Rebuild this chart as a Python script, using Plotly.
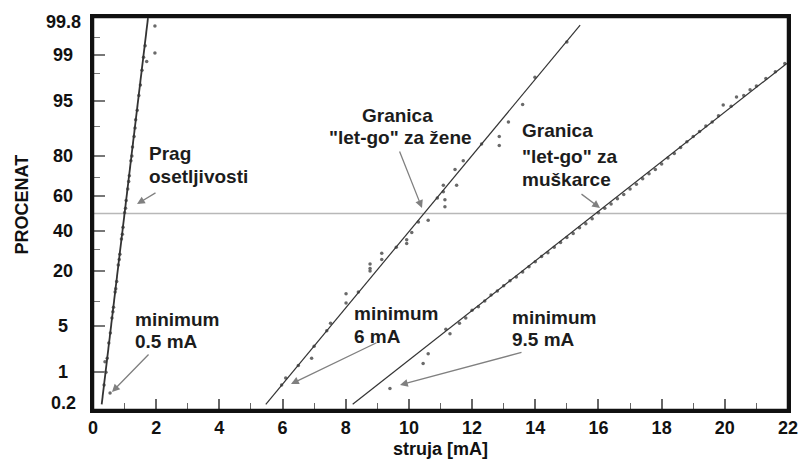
from statistics import NormalDist
import plotly.graph_objects as go

ND = NormalDist()


def zq(p):
    """percent -> normal quantile (probability-paper scale)"""
    return ND.inv_cdf(p / 100.0)


# ---------------- data ----------------
y_tick_pct = [0.2, 1, 5, 20, 40, 60, 80, 95, 99, 99.8]
y_tick_text = ["0.2", "1", "5", "20", "40", "60", "80", "95", "99", "99.8"]
y_minor_pct = [10, 30, 70, 90, 98, 99.5]
x_ticks = [0, 2, 4, 6, 8, 10, 12, 14, 16, 18, 20, 22]

# threshold of perception (prag osetljivosti)
sens_x = [0.35, 0.38, 0.41, 0.45, 0.50, 0.54, 0.55, 0.60, 0.63, 0.65, 0.70, 0.72,
          0.75, 0.80, 0.83, 0.85, 0.90, 0.93, 0.95, 1.00, 1.03, 1.05, 1.10, 1.13,
          1.15, 1.20, 1.23, 1.25, 1.30, 1.33, 1.35, 1.40, 1.45, 1.50, 1.55, 1.60,
          1.65, 1.70, 1.96, 1.96]
sens_pct = [0.6, 1.5, 1.0, 1.7, 2.9, 0.43, 4.0, 6.3, 7.5, 8.5, 12.5, 13.5,
            16.0, 22.5, 25.0, 27.5, 35.5, 38.0, 42.0, 50.5, 53.0, 57.5, 64.0, 68.0,
            71.0, 78.0, 80.0, 83.5, 87.0, 89.5, 91.5, 93.5, 95.8, 97.0, 98.2, 98.9,
            99.3, 98.7, 99.06, 99.7]

# let-go, women
zene_x = [5.97, 6.1, 6.5, 6.92, 7.0, 7.4, 7.52, 8.01, 8.01, 8.4, 8.77, 8.77,
          8.77, 9.14, 9.14, 9.6, 9.93, 9.93, 10.09, 10.3, 10.61, 10.9, 11.09, 11.09,
          11.14, 11.14, 11.46, 11.51, 11.72, 12.3, 12.86, 12.86, 13.15, 13.6, 13.99, 15.0]
zene_pct = [0.6, 0.8, 1.3, 1.7, 2.6, 4.3, 5.4, 9.5, 12.0, 12.5, 20.0, 21.0,
            23.0, 25.0, 28.0, 31.0, 33.0, 35.0, 39.0, 45.0, 46.0, 59.0, 62.5, 66.0,
            54.0, 58.0, 74.0, 66.0, 78.0, 84.6, 84.0, 87.0, 91.0, 94.5, 97.7, 99.4]

# let-go, men
musk_x = [9.4, 10.45, 10.61, 11.17, 11.3, 11.6, 11.8, 12.0, 12.2, 12.4, 12.6, 12.8,
          13.0, 13.2, 13.4, 13.6, 13.8, 14.0, 14.2, 14.4, 14.6, 14.8, 15.0, 15.2,
          15.4, 15.6, 15.8, 16.0, 16.2, 16.4, 16.6, 16.8, 17.0, 17.2, 17.4, 17.6,
          17.8, 18.0, 18.2, 18.4, 18.6, 18.8, 19.0, 19.2, 19.4, 19.6, 19.8, 19.95,
          20.2, 20.37, 20.6, 20.8, 21.0, 21.3, 21.6, 21.9]
musk_pct = [0.52, 1.4, 2.0, 4.5, 3.9, 5.4, 6.3, 7.8, 8.6, 10.0, 11.6, 12.8,
            14.5, 16.2, 17.6, 19.6, 21.8, 24.0, 26.5, 28.3, 31.0, 33.5, 36.2, 38.5,
            41.8, 44.0, 47.0, 50.5, 53.0, 55.5, 58.6, 61.0, 64.0, 66.6, 69.5, 72.0,
            74.0, 76.6, 79.2, 81.0, 83.3, 85.3, 87.0, 88.5, 90.0, 91.0, 92.4, 94.4,
            94.2, 95.6, 95.8, 96.5, 96.9, 97.6, 98.1, 98.6]

# fitted straight lines on probability paper (end points)
sens_line_x = [0.275, 1.74]
sens_line_pct = [0.26, 99.79]
zene_line_x = [5.47, 15.42]
zene_line_pct = [0.26, 99.71]
musk_line_x = [8.22, 21.96]
musk_line_pct = [0.26, 98.6]

ref_pct = 50

# ---------------- layout helpers (pixel geometry) ----------------
W, H = 801, 461
L, R, T, B = 93, 13, 17, 51
PW, PH = W - L - R, H - T - B


def px(xp):
    return (xp - L) / PW


def py(yp):
    return (H - B - yp) / PH


FONT = "Liberation Sans, Arial, sans-serif"
TXT = "#1c1c1c"
ARROW = "#808080"

fig = go.Figure()

marker = dict(size=3.5, color="#6a6a6a")
for xs, ps in [(sens_x, sens_pct), (zene_x, zene_pct), (musk_x, musk_pct)]:
    fig.add_trace(go.Scatter(x=xs, y=[zq(p) for p in ps], mode="markers",
                             marker=marker, showlegend=False, hoverinfo="skip"))

for xs, ps, w in [(sens_line_x, sens_line_pct, 1.8), (zene_line_x, zene_line_pct, 1.2),
                  (musk_line_x, musk_line_pct, 1.2)]:
    fig.add_trace(go.Scatter(x=xs, y=[zq(p) for p in ps], mode="lines",
                             line=dict(color="#333333", width=w),
                             showlegend=False, hoverinfo="skip"))

fig.add_shape(type="line", xref="paper", x0=0, x1=1, yref="y",
              y0=zq(ref_pct), y1=zq(ref_pct), line=dict(color="#b8b8b8", width=1.5),
              layer="below")
# plot frame
fig.add_shape(type="rect", xref="paper", yref="paper", x0=0, x1=1, y0=0, y1=1,
              line=dict(color="#111", width=2.5), layer="above")

ann = []
# y tick labels (centred, as in the original)
n = len(y_tick_pct)
for i, (p, t) in enumerate(zip(y_tick_pct, y_tick_text)):
    shift = 0
    if i == 0:
        shift = 7
    elif i == n - 1:
        shift = -5
    ann.append(dict(xref="paper", yref="y", x=px(63), y=zq(p), text=t, showarrow=False,
                    xanchor="center", yanchor="middle", yshift=shift,
                    font=dict(family=FONT, size=18, weight="bold", color="#111")))

# y-axis title
ann.append(dict(xref="paper", yref="paper", x=px(21.5), y=py(205), text="PROCENAT",
                textangle=-90, showarrow=False, xanchor="center", yanchor="middle",
                font=dict(family=FONT, size=18, weight="bold", color="#111")))

# callout texts
texts = [
    ("Prag", 147, 153, "left"),
    ("osetljivosti", 147, 176, "left"),
    ("Granica", 397, 115, "center"),
    ("\"let-go\" za žene", 400, 137, "center"),
    ("Granica", 520, 130, "left"),
    ("\"let-go\" za", 520, 156, "left"),
    ("muškarce", 520, 179, "left"),
    ("minimum", 133, 319, "left"),
    ("0.5 mA", 133, 341, "left"),
    ("minimum", 352, 313, "left"),
    ("6 mA", 352, 336, "left"),
    ("minimum", 510, 317, "left"),
    ("9.5 mA", 510, 339, "left"),
]
for t, xp, yp, anc in texts:
    ann.append(dict(xref="paper", yref="paper", x=px(xp), y=py(yp), text=t,
                    showarrow=False, xanchor=anc, yanchor="middle",
                    font=dict(family=FONT, size=19, weight="bold", color=TXT)))

# arrows: head (x,y) and tail (px, py)
arrows = [
    ((137, 204), (157, 192)),
    ((422, 208), (399, 150)),
    ((600, 208), (580, 193)),
    ((112, 392), (150, 353)),
    ((291, 384), (378, 342)),
    ((400, 385), (523, 352)),
]
for (hx, hy), (tx, ty) in arrows:
    ann.append(dict(xref="paper", yref="paper", x=px(hx), y=py(hy), text="",
                    showarrow=True, ax=tx - hx, ay=ty - hy, arrowhead=2,
                    arrowsize=1.2, arrowwidth=1.3, arrowcolor=ARROW, standoff=0))

fig.update_layout(
    width=W, height=H,
    margin=dict(l=L, r=R, t=T, b=B, pad=0),
    paper_bgcolor="white", plot_bgcolor="white",
    annotations=ann,
    font=dict(family=FONT, color="#111"),
)

fig.update_xaxes(
    range=[0, 22], tickvals=x_ticks, ticktext=[str(v) for v in x_ticks],
    ticks="inside", ticklen=11, tickwidth=1.5, tickcolor="#666",
    minor=dict(dtick=1, tick0=0, ticks="inside", ticklen=7, tickwidth=1.3, tickcolor="#666"),
    showline=True, linewidth=2.5, linecolor="#111", mirror=True,
    showgrid=False, zeroline=False,
    tickfont=dict(family=FONT, size=18, weight="bold", color="#111"),
    title=dict(text="struja [mA]", standoff=6,
               font=dict(family=FONT, size=18, weight="bold", color="#111")),
    automargin=False,
)
fig.update_yaxes(
    range=[zq(0.2), zq(99.8)], tickvals=[zq(p) for p in y_tick_pct],
    ticks="inside", ticklen=12, tickwidth=1.5, tickcolor="#777",
    minor=dict(tickvals=[zq(p) for p in y_minor_pct], ticks="inside", ticklen=7,
               tickwidth=1.3, tickcolor="#777"),
    showticklabels=False,
    showline=True, linewidth=2.5, linecolor="#111", mirror=True,
    showgrid=False, zeroline=False, automargin=False,
)

fig.write_html(
    "out.html",
    config={"displayModeBar": False},
    post_script="document.body.style.margin='0';document.body.style.padding='0';"
                "document.documentElement.style.overflow='hidden';",
)
